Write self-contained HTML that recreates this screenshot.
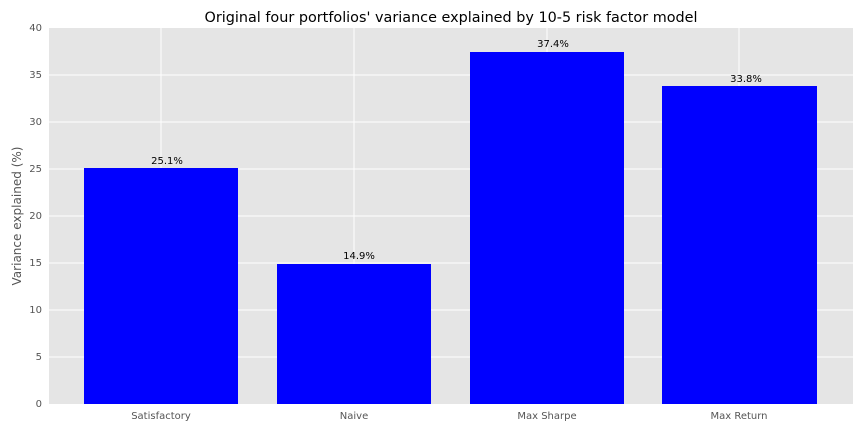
<!DOCTYPE html>
<html><head><meta charset="utf-8"><style>
body{margin:0;background:#fff;}
svg{display:block;font-family:"DejaVu Sans","Liberation Sans",sans-serif;}
</style></head><body>
<svg width="864" height="432" xmlns="http://www.w3.org/2000/svg">
<rect width="864" height="432" fill="#fff"/>
<rect x="49" y="28" width="804" height="376" fill="#e5e5e5"/>
<g stroke="#fff" stroke-width="1">
<line x1="49" x2="853" y1="357" y2="357"/><line x1="49" x2="853" y1="310" y2="310"/>
<line x1="49" x2="853" y1="263" y2="263"/><line x1="49" x2="853" y1="216" y2="216"/>
<line x1="49" x2="853" y1="169" y2="169"/><line x1="49" x2="853" y1="122" y2="122"/>
<line x1="49" x2="853" y1="75" y2="75"/>
<line x1="161" x2="161" y1="28" y2="404"/><line x1="354" x2="354" y1="28" y2="404"/>
<line x1="547" x2="547" y1="28" y2="404"/><line x1="739" x2="739" y1="28" y2="404"/>
</g>
<g fill="#0000ff">
<rect x="84" y="168" width="154" height="236"/>
<rect x="277" y="264" width="154" height="140"/>
<rect x="470" y="52" width="154" height="352"/>
<rect x="662" y="86" width="155" height="318"/>
</g>
<g font-size="10" fill="#000" text-anchor="middle">
<text x="167" y="164">25.1%</text><text x="359" y="259">14.9%</text>
<text x="553" y="47">37.4%</text><text x="746" y="82">33.8%</text>
</g>
<g font-size="10" fill="#555" text-anchor="end">
<text x="42" y="407">0</text><text x="42" y="360">5</text><text x="42" y="313">10</text>
<text x="42" y="266">15</text><text x="42" y="219">20</text><text x="42" y="172">25</text>
<text x="42" y="125">30</text><text x="42" y="78">35</text><text x="42" y="31">40</text>
</g>
<g font-size="10" fill="#555" text-anchor="middle">
<text x="161" y="419">Satisfactory</text><text x="354" y="419">Naive</text>
<text x="547" y="419">Max Sharpe</text><text x="739" y="419">Max Return</text>
</g>
<text x="21" y="216" font-size="12" fill="#555" text-anchor="middle" textLength="139" lengthAdjust="spacingAndGlyphs" transform="rotate(-90 21 216)">Variance explained (%)</text>
<text x="451" y="22" font-size="14" fill="#000" text-anchor="middle" textLength="493" lengthAdjust="spacingAndGlyphs">Original four portfolios' variance explained by 10-5 risk factor model</text>
</svg>
</body></html>
